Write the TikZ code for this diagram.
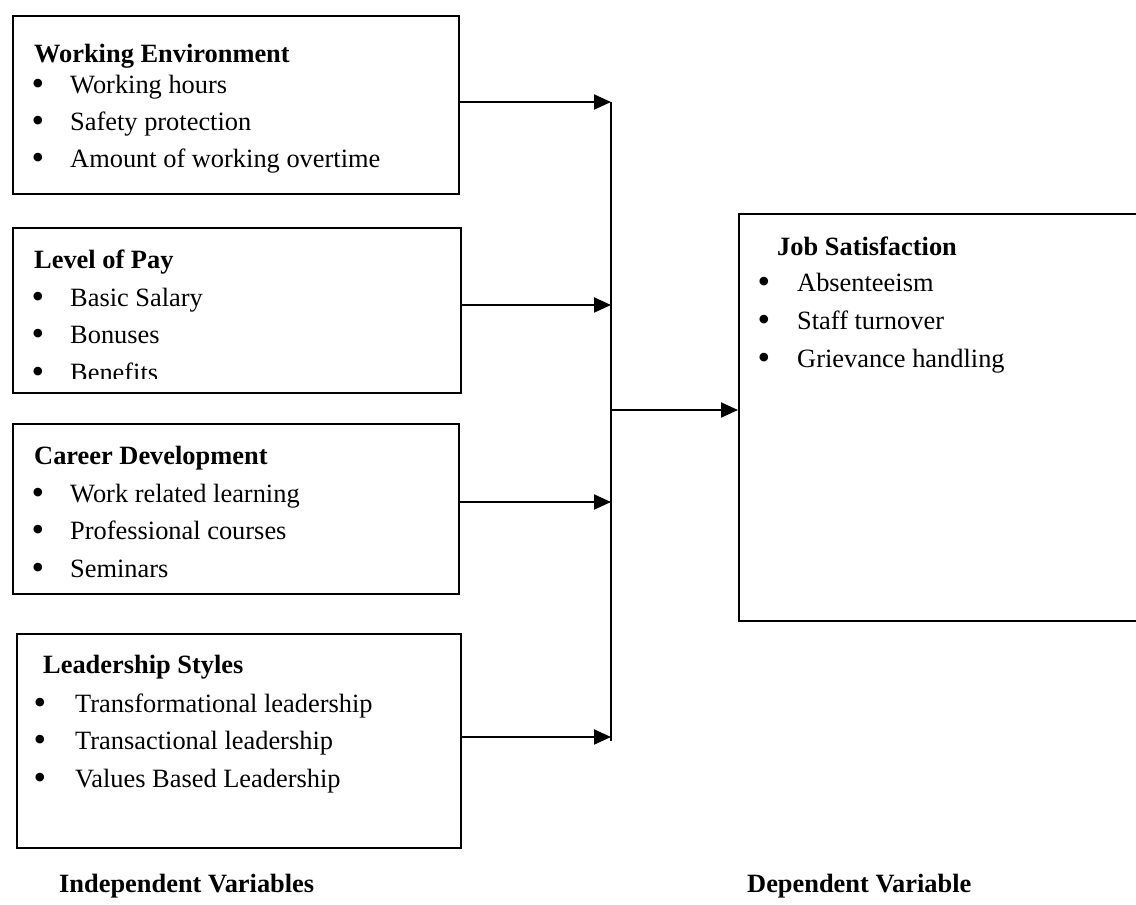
\documentclass[tikz,border=0pt]{standalone}
\usepackage{fontspec}
\setmainfont{Liberation Serif}
\usetikzlibrary{arrows.meta}
\begin{document}
\begin{tikzpicture}[x=1pt,y=-1pt,
  box/.style={draw, line width=1.6pt, rectangle, inner sep=0pt, anchor=north west},
  txt/.style={inner sep=0pt, anchor=base west, font=\fontsize{26.4}{32}\selectfont},
  ttl/.style={txt, font=\fontsize{26.4}{32}\selectfont\bfseries},
  bul/.style={inner sep=0pt, anchor=base, yshift=-2pt, font=\fontsize{36}{36}\selectfont},
  conn/.style={line width=2pt},
  arr/.style={conn, -{Triangle[length=17pt,width=15pt]}}]
\useasboundingbox (0,0) rectangle (1136,905);
% boxes
\node[box, minimum width=446pt, minimum height=178pt] (wenv) at (12,15) {};
\node[box, minimum width=448pt, minimum height=165pt] (pay) at (12,227) {};
\node[box, minimum width=446pt, minimum height=170pt] (career) at (12,423) {};
\node[box, minimum width=444pt, minimum height=214pt] (lead) at (16,633) {};
\node[box, minimum width=402pt, minimum height=407pt] (job) at (738,213) {};
% box 1
\node[ttl] (t1) at (34,62) {Working Environment};
\node[bul] (b11) at (38,93) {•}; \node[txt] (i11) at (70,93) {Working hours};
\node[bul] (b12) at (38,130) {•}; \node[txt] (i12) at (70,130) {Safety protection};
\node[bul] (b13) at (38,167) {•}; \node[txt] (i13) at (70,167) {Amount of working overtime};
% box 2
\node[ttl] (t2) at (34,268) {Level of Pay};
\node[bul] (b21) at (38,306) {•}; \node[txt] (i21) at (70,306) {Basic Salary};
\node[bul] (b22) at (38,343) {•}; \node[txt] (i22) at (70,343) {Bonuses};
\node[bul] (b23) at (38,381) {•};
\begin{scope}
\clip (12,227) rectangle (460,378);
\node[txt] (i23) at (70,381) {Benefits};
\end{scope}
% box 3
\node[ttl] (t3) at (34,464) {Career Development};
\node[bul] (b31) at (38,502) {•}; \node[txt] (i31) at (70,502) {Work related learning};
\node[bul] (b32) at (38,539) {•}; \node[txt] (i32) at (70,539) {Professional courses};
\node[bul] (b33) at (38,577) {•}; \node[txt] (i33) at (70,577) {Seminars};
% box 4
\node[ttl] (t4) at (43,673) {Leadership Styles};
\node[bul] (b41) at (40,712) {•}; \node[txt] (i41) at (75,712) {Transformational leadership};
\node[bul] (b42) at (40,749) {•}; \node[txt] (i42) at (75,749) {Transactional leadership};
\node[bul] (b43) at (40,787) {•}; \node[txt] (i43) at (75,787) {Values Based Leadership};
% job box
\node[ttl] (t5) at (777,255) {Job Satisfaction};
\node[bul] (b51) at (764,291) {•}; \node[txt] (i51) at (797,291) {Absenteeism};
\node[bul] (b52) at (764,329) {•}; \node[txt] (i52) at (797,329) {Staff turnover};
\node[bul] (b53) at (764,367) {•}; \node[txt] (i53) at (797,367) {Grievance handling};
% captions
\node[ttl] (cap1) at (59,892) {Independent Variables};
\node[ttl] (cap2) at (747,892) {Dependent Variable};
% connectors
\coordinate (j1) at (611,102);
\coordinate (j2) at (611,305);
\coordinate (j3) at (611,502);
\coordinate (j4) at (611,737);
\coordinate (jm) at (611,410);
\coordinate (jend) at (611,741);
\draw[conn] (j1) -- (jend);
\draw[arr] (wenv.east |- j1) -- (j1);
\draw[arr] (pay.east |- j2) -- (j2);
\draw[arr] (career.east |- j3) -- (j3);
\draw[arr] (lead.east |- j4) -- (j4);
\draw[arr] (jm) -- (jm -| job.west);
\end{tikzpicture}
\end{document}
